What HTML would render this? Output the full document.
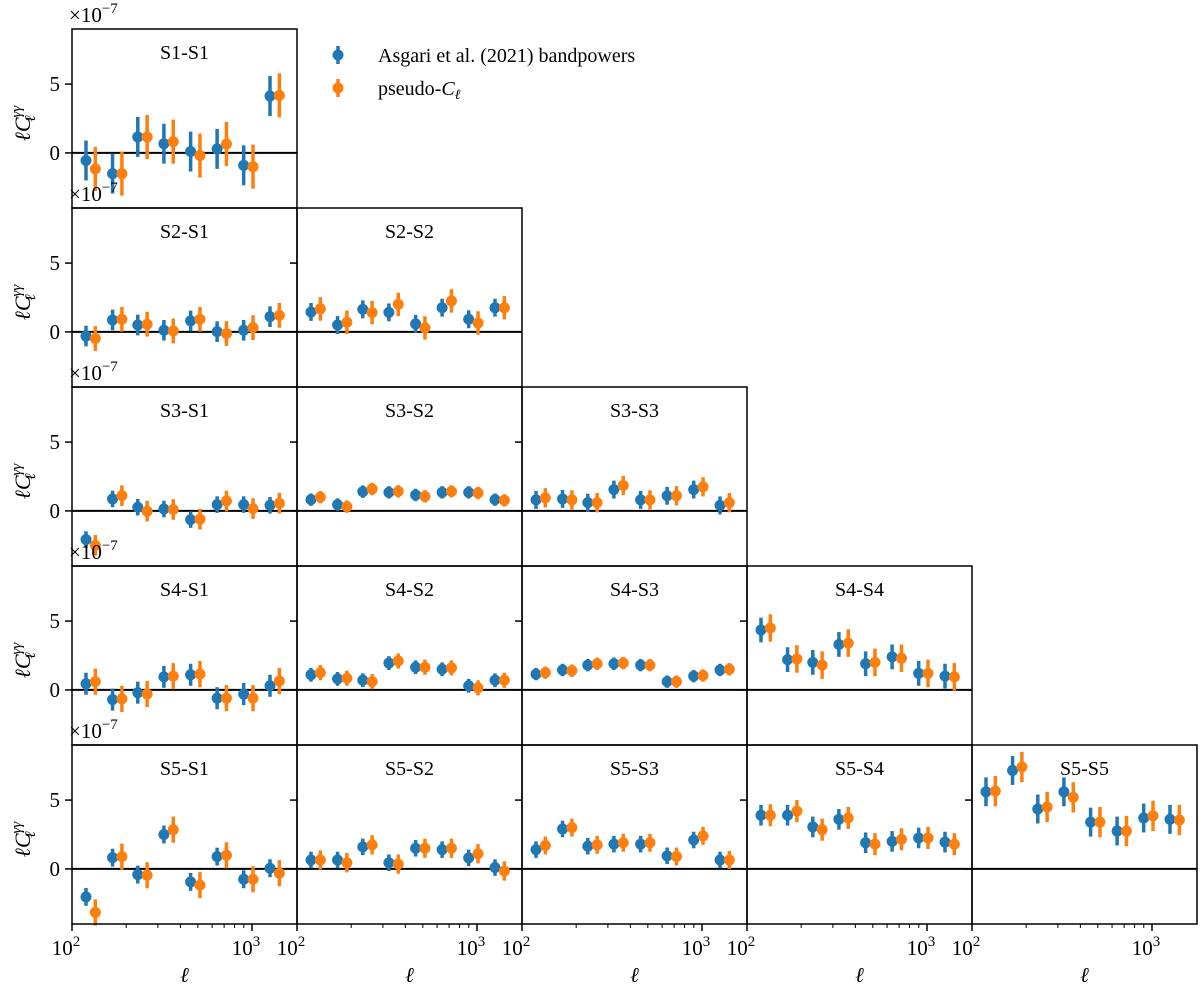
<!DOCTYPE html>
<html><head><meta charset="utf-8"><style>
html,body{margin:0;padding:0;background:#fff}
svg{display:block;font-family:"Liberation Serif","DejaVu Serif",serif}
</style></head><body>
<svg id="fig" width="1200" height="990" viewBox="0 0 1200 990" xmlns="http://www.w3.org/2000/svg">
<g id="legend">
 <g>
  <line x1="338" y1="46" x2="338" y2="64" stroke="#1f77b4" stroke-width="3.5"/>
  <circle cx="338" cy="55" r="5.5" fill="#1f77b4"/>
  <text x="378" y="62" font-size="20">Asgari et al. (2021) bandpowers</text>
 </g>
 <g>
  <line x1="338" y1="79" x2="338" y2="97" stroke="#ff7f0e" stroke-width="3.5"/>
  <circle cx="338" cy="88" r="5.5" fill="#ff7f0e"/>
  <text x="378" y="95" font-size="20">pseudo-<tspan font-style="italic">C</tspan><tspan font-style="italic" font-size="14" dy="4">ℓ</tspan></text>
 </g>
</g>
</svg>
<script>
const ells = [119.6, 168, 232, 324, 456, 640, 899, 1259];
const orangeShift = 1.127;
const panelNames = ["S1-S1","S2-S1","S2-S2","S3-S1","S3-S2","S3-S3","S4-S1","S4-S2","S4-S3","S4-S4","S5-S1","S5-S2","S5-S3","S5-S4","S5-S5"];
const blueVals = [
 [-0.55,-1.5,1.16,0.67,0.1,0.29,-0.9,4.13],
 [-0.3,0.87,0.5,0.12,0.8,0.02,0.12,1.11],
 [1.45,0.5,1.64,1.42,0.58,1.76,0.92,1.76],
 [-2.08,0.87,0.27,0.14,-0.63,0.46,0.46,0.41],
 [0.82,0.46,1.4,1.35,1.16,1.35,1.35,0.82],
 [0.8,0.87,0.6,1.55,0.8,1.1,1.55,0.4],
 [0.45,-0.7,-0.2,0.95,1.1,-0.6,-0.3,0.3],
 [1.1,0.8,0.7,1.95,1.65,1.5,0.3,0.7],
 [1.15,1.45,1.8,1.9,1.8,0.6,1.0,1.45],
 [4.35,2.2,2.0,3.3,1.9,2.4,1.2,1.0],
 [-2.03,0.82,-0.41,2.5,-0.94,0.89,-0.75,0.05],
 [0.65,0.65,1.6,0.45,1.5,1.4,0.8,0.1],
 [1.4,2.9,1.65,1.8,1.8,0.95,2.1,0.65],
 [3.9,3.9,3.05,3.6,1.9,2.0,2.25,1.95],
 [5.6,7.15,4.35,5.6,3.4,2.75,3.7,3.6]
];
const orangeVals = [
 [-1.16,-1.5,1.16,0.82,-0.19,0.65,-1.0,4.18],
 [-0.48,0.92,0.56,0.07,0.92,-0.12,0.31,1.2],
 [1.67,0.7,1.4,2.0,0.29,2.25,0.65,1.76],
 [-2.5,1.11,-0.02,0.1,-0.6,0.72,0.17,0.56],
 [1.0,0.31,1.59,1.42,1.06,1.42,1.3,0.77],
 [0.95,0.8,0.6,1.85,0.8,1.1,1.75,0.6],
 [0.6,-0.65,-0.3,1.0,1.15,-0.6,-0.6,0.65],
 [1.25,0.85,0.6,2.1,1.65,1.6,0.15,0.7],
 [1.25,1.4,1.9,1.95,1.8,0.6,1.05,1.5],
 [4.5,2.25,1.8,3.4,2.0,2.3,1.2,0.95],
 [-3.16,0.89,-0.46,2.85,-1.18,0.99,-0.75,-0.31],
 [0.65,0.45,1.75,0.35,1.5,1.5,1.1,-0.15],
 [1.7,3.0,1.75,1.9,1.9,0.9,2.4,0.65],
 [3.9,4.2,2.85,3.7,1.8,2.15,2.25,1.8],
 [5.65,7.4,4.5,5.2,3.4,2.75,3.85,3.55]
];
const blueErr = [1.45,0.75,0.65,0.6,0.45,0.65,0.8,0.5,0.45,0.9,0.65,0.6,0.6,0.75,1.05];
const orangeErr = [1.6,0.9,0.85,0.75,0.45,0.7,0.95,0.55,0.45,1.0,0.95,0.7,0.65,0.8,1.1];
const yTicks = [0,5];
const xMajor = [100,1000];
const xMajorLabels = ["2","3"];
const xMinor = [200,300,400,500,600,700,800,900];

const NS="http://www.w3.org/2000/svg";
const svg=document.getElementById('fig');
const PW=225, PH=179, L0=72, T0=29, YMAX=9, YMIN=-4;
function mk(tag,attrs,parent){const e=document.createElementNS(NS,tag);for(const k in attrs)e.setAttribute(k,attrs[k]);(parent||svg).appendChild(e);return e;}
function xs(ell,left){return left+(Math.log10(ell)-2)*180;}
function ys(v,top){return top+(YMAX-v)*PH/(YMAX-YMIN);}

let idx=0;
for(let r=0;r<5;r++){
 for(let c=0;c<=r;c++){
  const left=L0+c*PW, top=T0+r*PH, name=panelNames[idx];
  const g=mk('g',{});
  
  
  const z=mk('line',{x1:left,x2:left+PW,y1:ys(0,top),y2:ys(0,top),stroke:'#000','stroke-width':2},g);
  
  
  yTicks.forEach(t=>{
   const tk=mk('line',{x1:left-7,x2:left,y1:ys(t,top),y2:ys(t,top),stroke:'#000','stroke-width':1.5},g);
   
   
   if(c===0){
    const tl=mk('text',{x:left-12,y:ys(t,top)+7,'font-size':21,'text-anchor':'end'},g);
    tl.textContent=String(t);
    
    
   }
  });
  if(r===4){
   xMajor.forEach((t,i)=>{
    mk('line',{x1:xs(t,left),x2:xs(t,left),y1:top+PH,y2:top+PH+7,stroke:'#000','stroke-width':1.5},g);
    const tl=mk('text',{x:xs(t,left)-6,y:top+PH+31,'font-size':21,'text-anchor':'middle'},g);
    
    
    tl.textContent='10';
    const sp=mk('tspan',{dy:-9,'font-size':15},tl);sp.textContent=xMajorLabels[i];
   });
   xMinor.forEach(t=>{mk('line',{x1:xs(t,left),x2:xs(t,left),y1:top+PH,y2:top+PH+4,stroke:'#000','stroke-width':1},g);});
   const xl=mk('text',{x:left+PW/2,y:top+PH+58,'font-size':21,'font-style':'italic','text-anchor':'middle'},g);
   xl.textContent='ℓ';
   
   
  }
  const ti=mk('text',{x:left+PW/2,y:top+30,'font-size':20,'text-anchor':'middle'},g);
  ti.textContent=name;
  
  
  [[blueVals,blueErr,'#1f77b4',1,'bandpower-point'],[orangeVals,orangeErr,'#ff7f0e',orangeShift,'pseudo-cl-point']].forEach(([vals,errs,col,sh,nm])=>{
   vals[idx].forEach((v,i)=>{
    const x=xs(ells[i]*sh,left), y=ys(v,top), e=errs[idx]*PH/(YMAX-YMIN);
    const pg=mk('g',{},g);
    
    
    mk('line',{x1:x,x2:x,y1:y-e,y2:y+e,stroke:col,'stroke-width':3.5},pg);
    mk('circle',{cx:x,cy:y,r:5.5,fill:col},pg);
   });
  });
  const fr=mk('rect',{x:left,y:top,width:PW,height:PH,fill:'none',stroke:'#000','stroke-width':1.5},g);
  
  
  if(c===0){
   const off=mk('text',{x:left-3,y:top-7,'font-size':21},g);
   off.textContent='×10';
   const sp=mk('tspan',{dy:-9,'font-size':15},off);sp.textContent='−7';
   
   
   const yl=mk('text',{transform:`translate(30,${top+PH/2+5}) rotate(-90)`,'font-size':22,'font-style':'italic','text-anchor':'middle'},g);
   
   
   yl.textContent='ℓC';
   const s1=mk('tspan',{dy:-9,'font-size':15},yl);s1.textContent='γγ';
   const s2=mk('tspan',{dy:14,dx:-16,'font-size':15},yl);s2.textContent='ℓ';
  }
  idx++;
 }
}
svg.appendChild(document.getElementById('legend'));
</script>
</body></html>
